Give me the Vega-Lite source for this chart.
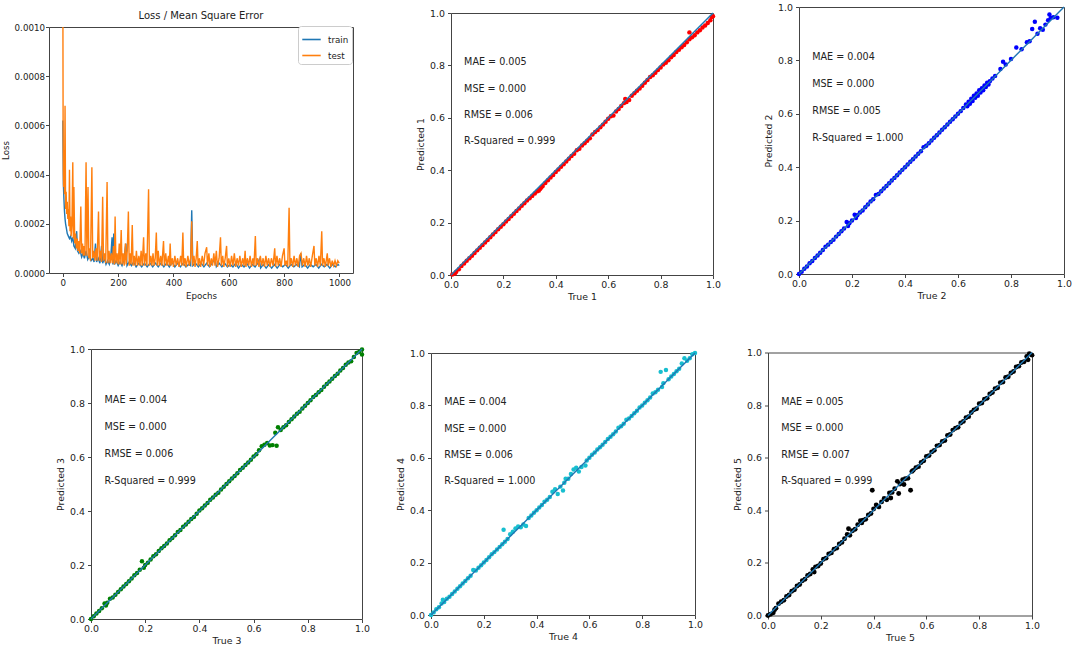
{
  "$schema": "https://vega.github.io/schema/vega-lite/v6.json",
  "padding": {"left": 0, "top": 1, "right": 0, "bottom": 0},
  "background": "white",
  "columns": 1,
  "align": "none",
  "spacing": 41,
  "datasets": {
    "train": [
      {"epoch":0,"loss":0.00062},{"epoch":2,"loss":0.00036},{"epoch":4,"loss":0.0003},{"epoch":6,"loss":0.00025},{"epoch":8,"loss":0.00022},{"epoch":10,"loss":0.0002},{"epoch":13,"loss":0.00018},{"epoch":16,"loss":0.00016},{"epoch":20,"loss":0.00015},{"epoch":24,"loss":0.00014},{"epoch":28,"loss":0.00015},{"epoch":32,"loss":0.00013},{"epoch":36,"loss":0.000145},{"epoch":40,"loss":0.00011},{"epoch":45,"loss":0.0001},{"epoch":50,"loss":0.00017},{"epoch":53,"loss":0.00009},{"epoch":58,"loss":0.00008},{"epoch":63,"loss":0.00009},{"epoch":68,"loss":0.000065},{"epoch":73,"loss":0.00008},{"epoch":78,"loss":0.00006},{"epoch":84,"loss":0.00009},{"epoch":90,"loss":0.000055},{"epoch":96,"loss":0.00007},{"epoch":102,"loss":0.00005},{"epoch":108,"loss":0.00006},{"epoch":113,"loss":0.000045},{"epoch":118,"loss":0.00012},{"epoch":122,"loss":0.000045},{"epoch":128,"loss":0.00006},{"epoch":134,"loss":0.00004},{"epoch":140,"loss":0.00011},{"epoch":144,"loss":0.00004},{"epoch":150,"loss":0.00006},{"epoch":156,"loss":0.000035},{"epoch":162,"loss":0.00005},{"epoch":168,"loss":0.000035},{"epoch":173,"loss":0.00006},{"epoch":178,"loss":0.000145},{"epoch":181,"loss":0.000035},{"epoch":184,"loss":0.00016},{"epoch":187,"loss":0.000035},{"epoch":193,"loss":0.00005},{"epoch":200,"loss":0.00003},{"epoch":207,"loss":0.000045},{"epoch":214,"loss":0.00003},{"epoch":220,"loss":0.00005},{"epoch":228,"loss":0.00012},{"epoch":232,"loss":0.00003},{"epoch":240,"loss":0.000045},{"epoch":248,"loss":0.00003},{"epoch":256,"loss":0.000045},{"epoch":265,"loss":0.000025},{"epoch":275,"loss":0.00004},{"epoch":285,"loss":0.000025},{"epoch":295,"loss":0.00004},{"epoch":305,"loss":0.000025},{"epoch":315,"loss":0.00004},{"epoch":325,"loss":0.000025},{"epoch":335,"loss":0.00004},{"epoch":345,"loss":0.000025},{"epoch":355,"loss":0.00004},{"epoch":365,"loss":0.000025},{"epoch":375,"loss":0.00004},{"epoch":385,"loss":0.000025},{"epoch":395,"loss":0.000045},{"epoch":405,"loss":0.000025},{"epoch":415,"loss":0.00004},{"epoch":425,"loss":0.000025},{"epoch":435,"loss":0.00004},{"epoch":445,"loss":0.000025},{"epoch":455,"loss":0.000035},{"epoch":462,"loss":0.00003},{"epoch":466,"loss":0.000255},{"epoch":470,"loss":0.00003},{"epoch":480,"loss":0.00004},{"epoch":490,"loss":0.000025},{"epoch":500,"loss":0.00004},{"epoch":510,"loss":0.000025},{"epoch":520,"loss":0.00004},{"epoch":530,"loss":0.000025},{"epoch":540,"loss":0.00004},{"epoch":550,"loss":0.00006},{"epoch":555,"loss":0.000025},{"epoch":565,"loss":0.00004},{"epoch":575,"loss":0.000025},{"epoch":585,"loss":0.00004},{"epoch":595,"loss":0.000025},{"epoch":605,"loss":0.000035},{"epoch":615,"loss":0.000025},{"epoch":625,"loss":0.00004},{"epoch":635,"loss":0.00002},{"epoch":645,"loss":0.000035},{"epoch":655,"loss":0.000025},{"epoch":665,"loss":0.00004},{"epoch":675,"loss":0.00002},{"epoch":685,"loss":0.000035},{"epoch":695,"loss":0.000025},{"epoch":705,"loss":0.00004},{"epoch":710,"loss":0.000055},{"epoch":715,"loss":0.00002},{"epoch":725,"loss":0.000035},{"epoch":735,"loss":0.00002},{"epoch":745,"loss":0.000035},{"epoch":755,"loss":0.00002},{"epoch":765,"loss":0.000035},{"epoch":775,"loss":0.00002},{"epoch":785,"loss":0.000035},{"epoch":795,"loss":0.000025},{"epoch":805,"loss":0.000035},{"epoch":815,"loss":0.00002},{"epoch":825,"loss":0.000035},{"epoch":835,"loss":0.000025},{"epoch":845,"loss":0.000035},{"epoch":855,"loss":0.000025},{"epoch":860,"loss":0.00008},{"epoch":865,"loss":0.000025},{"epoch":875,"loss":0.000035},{"epoch":885,"loss":0.00002},{"epoch":895,"loss":0.000035},{"epoch":905,"loss":0.000025},{"epoch":915,"loss":0.000035},{"epoch":925,"loss":0.00002},{"epoch":935,"loss":0.000035},{"epoch":945,"loss":0.000025},{"epoch":955,"loss":0.000035},{"epoch":965,"loss":0.00002},{"epoch":975,"loss":0.000035},{"epoch":985,"loss":0.000025},{"epoch":995,"loss":0.000035},{"epoch":999,"loss":0.00003}
    ],
    "test": [
      {"epoch":0,"loss":0.0012},{"epoch":1,"loss":0.00062},{"epoch":2,"loss":0.0004},{"epoch":3,"loss":0.00035},{"epoch":5,"loss":0.0005},{"epoch":6,"loss":0.00032},{"epoch":8,"loss":0.00068},{"epoch":10,"loss":0.00026},{"epoch":12,"loss":0.00033},{"epoch":14,"loss":0.00024},{"epoch":16,"loss":0.00029},{"epoch":18,"loss":0.00022},{"epoch":20,"loss":0.00026},{"epoch":22,"loss":0.00019},{"epoch":24,"loss":0.00042},{"epoch":26,"loss":0.00017},{"epoch":28,"loss":0.00023},{"epoch":30,"loss":0.00015},{"epoch":33,"loss":0.0002},{"epoch":36,"loss":0.00045},{"epoch":38,"loss":0.00014},{"epoch":40,"loss":0.00035},{"epoch":43,"loss":0.00012},{"epoch":46,"loss":0.00016},{"epoch":49,"loss":0.0001},{"epoch":52,"loss":0.00014},{"epoch":55,"loss":0.00009},{"epoch":58,"loss":0.00013},{"epoch":61,"loss":0.00008},{"epoch":65,"loss":0.00027},{"epoch":68,"loss":0.00008},{"epoch":71,"loss":0.00012},{"epoch":74,"loss":0.00007},{"epoch":77,"loss":0.00011},{"epoch":80,"loss":0.00007},{"epoch":84,"loss":0.00045},{"epoch":87,"loss":0.00007},{"epoch":91,"loss":0.00035},{"epoch":94,"loss":0.00006},{"epoch":97,"loss":0.0001},{"epoch":100,"loss":0.00005},{"epoch":105,"loss":0.00043},{"epoch":108,"loss":0.00006},{"epoch":112,"loss":0.00009},{"epoch":116,"loss":0.00005},{"epoch":120,"loss":0.0001},{"epoch":124,"loss":0.00005},{"epoch":129,"loss":0.00025},{"epoch":132,"loss":0.00005},{"epoch":136,"loss":0.00009},{"epoch":140,"loss":0.000045},{"epoch":144,"loss":0.00031},{"epoch":147,"loss":0.00005},{"epoch":151,"loss":0.00008},{"epoch":155,"loss":0.00004},{"epoch":160,"loss":0.00037},{"epoch":163,"loss":0.00004},{"epoch":167,"loss":0.00009},{"epoch":171,"loss":0.00004},{"epoch":175,"loss":0.00008},{"epoch":179,"loss":0.00004},{"epoch":183,"loss":0.00011},{"epoch":186,"loss":0.000035},{"epoch":189,"loss":0.00023},{"epoch":192,"loss":0.00004},{"epoch":196,"loss":0.00008},{"epoch":200,"loss":0.000035},{"epoch":204,"loss":0.00012},{"epoch":207,"loss":0.000035},{"epoch":211,"loss":0.000175},{"epoch":214,"loss":0.000035},{"epoch":218,"loss":0.00008},{"epoch":222,"loss":0.00003},{"epoch":226,"loss":0.00012},{"epoch":229,"loss":0.000035},{"epoch":233,"loss":0.00009},{"epoch":237,"loss":0.00025},{"epoch":240,"loss":0.00003},{"epoch":244,"loss":0.00008},{"epoch":247,"loss":0.000035},{"epoch":251,"loss":0.000195},{"epoch":254,"loss":0.00003},{"epoch":258,"loss":0.00007},{"epoch":262,"loss":0.00003},{"epoch":266,"loss":0.00009},{"epoch":270,"loss":0.00003},{"epoch":275,"loss":0.00007},{"epoch":279,"loss":0.00003},{"epoch":283,"loss":0.00009},{"epoch":287,"loss":0.00003},{"epoch":292,"loss":0.000145},{"epoch":295,"loss":0.00003},{"epoch":300,"loss":0.00008},{"epoch":304,"loss":0.00003},{"epoch":310,"loss":0.00034},{"epoch":313,"loss":0.00003},{"epoch":318,"loss":0.00007},{"epoch":322,"loss":0.00003},{"epoch":326,"loss":0.00008},{"epoch":330,"loss":0.00003},{"epoch":334,"loss":0.00006},{"epoch":338,"loss":0.000165},{"epoch":341,"loss":0.00003},{"epoch":345,"loss":0.00009},{"epoch":349,"loss":0.00003},{"epoch":354,"loss":0.00007},{"epoch":358,"loss":0.00003},{"epoch":364,"loss":0.00013},{"epoch":367,"loss":0.00003},{"epoch":372,"loss":0.00008},{"epoch":376,"loss":0.00003},{"epoch":382,"loss":0.00007},{"epoch":385,"loss":0.00003},{"epoch":388,"loss":0.00012},{"epoch":391,"loss":0.00003},{"epoch":396,"loss":0.00006},{"epoch":400,"loss":0.000025},{"epoch":405,"loss":0.00007},{"epoch":410,"loss":0.00003},{"epoch":415,"loss":0.00006},{"epoch":420,"loss":0.000025},{"epoch":426,"loss":0.00007},{"epoch":430,"loss":0.00003},{"epoch":434,"loss":0.000165},{"epoch":437,"loss":0.00003},{"epoch":442,"loss":0.00006},{"epoch":446,"loss":0.000025},{"epoch":452,"loss":0.00007},{"epoch":457,"loss":0.00003},{"epoch":462,"loss":0.00006},{"epoch":466,"loss":0.00021},{"epoch":469,"loss":0.00003},{"epoch":474,"loss":0.00007},{"epoch":478,"loss":0.000025},{"epoch":482,"loss":0.00006},{"epoch":486,"loss":0.00013},{"epoch":489,"loss":0.00003},{"epoch":494,"loss":0.00006},{"epoch":498,"loss":0.000025},{"epoch":504,"loss":0.00007},{"epoch":509,"loss":0.00003},{"epoch":514,"loss":0.00008},{"epoch":520,"loss":0.000105},{"epoch":523,"loss":0.00003},{"epoch":528,"loss":0.00008},{"epoch":532,"loss":0.000025},{"epoch":537,"loss":0.00006},{"epoch":541,"loss":0.00003},{"epoch":546,"loss":0.00008},{"epoch":550,"loss":0.00003},{"epoch":555,"loss":0.00009},{"epoch":559,"loss":0.000025},{"epoch":565,"loss":0.00006},{"epoch":570,"loss":0.000145},{"epoch":573,"loss":0.00003},{"epoch":578,"loss":0.00007},{"epoch":582,"loss":0.000025},{"epoch":587,"loss":0.00006},{"epoch":592,"loss":0.00011},{"epoch":595,"loss":0.000025},{"epoch":600,"loss":0.00006},{"epoch":605,"loss":0.000025},{"epoch":610,"loss":0.00007},{"epoch":615,"loss":0.00003},{"epoch":620,"loss":0.00008},{"epoch":625,"loss":0.000025},{"epoch":630,"loss":0.00006},{"epoch":635,"loss":0.00003},{"epoch":640,"loss":0.00007},{"epoch":645,"loss":0.000025},{"epoch":650,"loss":0.00006},{"epoch":655,"loss":0.00003},{"epoch":659,"loss":0.00009},{"epoch":662,"loss":0.000025},{"epoch":667,"loss":0.00006},{"epoch":672,"loss":0.00003},{"epoch":677,"loss":0.00007},{"epoch":682,"loss":0.000025},{"epoch":687,"loss":0.00006},{"epoch":691,"loss":0.00003},{"epoch":696,"loss":0.00015},{"epoch":699,"loss":0.00003},{"epoch":704,"loss":0.00006},{"epoch":709,"loss":0.000025},{"epoch":714,"loss":0.00007},{"epoch":719,"loss":0.00003},{"epoch":724,"loss":0.00006},{"epoch":729,"loss":0.000025},{"epoch":734,"loss":0.00007},{"epoch":739,"loss":0.00003},{"epoch":744,"loss":0.00006},{"epoch":749,"loss":0.000025},{"epoch":754,"loss":0.00006},{"epoch":760,"loss":0.00003},{"epoch":766,"loss":0.0001},{"epoch":769,"loss":0.000025},{"epoch":774,"loss":0.00007},{"epoch":779,"loss":0.00003},{"epoch":784,"loss":0.00006},{"epoch":789,"loss":0.000025},{"epoch":794,"loss":0.00007},{"epoch":800,"loss":0.0001},{"epoch":803,"loss":0.00003},{"epoch":808,"loss":0.00005},{"epoch":813,"loss":0.000025},{"epoch":818,"loss":0.000265},{"epoch":821,"loss":0.00003},{"epoch":826,"loss":0.00006},{"epoch":831,"loss":0.000025},{"epoch":836,"loss":0.00007},{"epoch":841,"loss":0.00003},{"epoch":846,"loss":0.00006},{"epoch":851,"loss":0.000025},{"epoch":856,"loss":0.00007},{"epoch":861,"loss":0.00008},{"epoch":866,"loss":0.00003},{"epoch":871,"loss":0.00006},{"epoch":876,"loss":0.000025},{"epoch":881,"loss":0.00007},{"epoch":886,"loss":0.00003},{"epoch":891,"loss":0.00006},{"epoch":896,"loss":0.000025},{"epoch":902,"loss":0.00007},{"epoch":908,"loss":0.00011},{"epoch":911,"loss":0.00003},{"epoch":916,"loss":0.00006},{"epoch":921,"loss":0.000025},{"epoch":926,"loss":0.00007},{"epoch":931,"loss":0.00003},{"epoch":936,"loss":0.00017},{"epoch":939,"loss":0.00003},{"epoch":944,"loss":0.00006},{"epoch":949,"loss":0.000025},{"epoch":956,"loss":0.00008},{"epoch":959,"loss":0.00003},{"epoch":964,"loss":0.00006},{"epoch":969,"loss":0.000025},{"epoch":974,"loss":0.00005},{"epoch":979,"loss":0.00003},{"epoch":984,"loss":0.00005},{"epoch":989,"loss":0.00003},{"epoch":994,"loss":0.00005},{"epoch":999,"loss":0.00004}
    ],
    "diag": [{"t":0,"p":0},{"t":1,"p":1}],
    "s1": [
      {"t":0.005,"p":0.002},{"t":0.015,"p":0.006},{"t":0.02,"p":0.012},{"t":0.03,"p":0.022},{"t":0.04,"p":0.034},{"t":0.05,"p":0.044},{"t":0.06,"p":0.054},{"t":0.07,"p":0.064},{"t":0.08,"p":0.073},{"t":0.09,"p":0.084},{"t":0.1,"p":0.094},{"t":0.11,"p":0.104},{"t":0.12,"p":0.114},{"t":0.13,"p":0.124},{"t":0.14,"p":0.134},{"t":0.15,"p":0.144},{"t":0.16,"p":0.155},{"t":0.17,"p":0.164},{"t":0.18,"p":0.175},{"t":0.19,"p":0.184},{"t":0.2,"p":0.194},{"t":0.21,"p":0.204},{"t":0.22,"p":0.214},{"t":0.23,"p":0.224},{"t":0.24,"p":0.234},{"t":0.25,"p":0.244},{"t":0.26,"p":0.254},{"t":0.27,"p":0.264},{"t":0.28,"p":0.274},{"t":0.29,"p":0.284},{"t":0.3,"p":0.293},{"t":0.31,"p":0.302},{"t":0.32,"p":0.311},{"t":0.33,"p":0.32},{"t":0.335,"p":0.322},{"t":0.34,"p":0.328},{"t":0.345,"p":0.334},{"t":0.35,"p":0.34},{"t":0.36,"p":0.351},{"t":0.37,"p":0.362},{"t":0.38,"p":0.372},{"t":0.39,"p":0.382},{"t":0.4,"p":0.393},{"t":0.41,"p":0.403},{"t":0.42,"p":0.413},{"t":0.43,"p":0.423},{"t":0.44,"p":0.433},{"t":0.45,"p":0.444},{"t":0.46,"p":0.454},{"t":0.47,"p":0.463},{"t":0.48,"p":0.476},{"t":0.49,"p":0.482},{"t":0.5,"p":0.494},{"t":0.51,"p":0.503},{"t":0.52,"p":0.512},{"t":0.53,"p":0.522},{"t":0.54,"p":0.536},{"t":0.55,"p":0.546},{"t":0.56,"p":0.553},{"t":0.57,"p":0.564},{"t":0.58,"p":0.574},{"t":0.59,"p":0.585},{"t":0.6,"p":0.596},{"t":0.61,"p":0.606},{"t":0.62,"p":0.609},{"t":0.63,"p":0.624},{"t":0.64,"p":0.634},{"t":0.65,"p":0.645},{"t":0.66,"p":0.656},{"t":0.665,"p":0.672},{"t":0.67,"p":0.66},{"t":0.68,"p":0.668},{"t":0.69,"p":0.684},{"t":0.7,"p":0.694},{"t":0.71,"p":0.703},{"t":0.72,"p":0.712},{"t":0.73,"p":0.722},{"t":0.74,"p":0.734},{"t":0.75,"p":0.744},{"t":0.76,"p":0.756},{"t":0.77,"p":0.762},{"t":0.78,"p":0.772},{"t":0.79,"p":0.782},{"t":0.8,"p":0.792},{"t":0.81,"p":0.803},{"t":0.82,"p":0.81},{"t":0.83,"p":0.82},{"t":0.84,"p":0.831},{"t":0.85,"p":0.84},{"t":0.86,"p":0.851},{"t":0.87,"p":0.86},{"t":0.88,"p":0.869},{"t":0.89,"p":0.878},{"t":0.9,"p":0.888},{"t":0.91,"p":0.926},{"t":0.91,"p":0.9},{"t":0.92,"p":0.907},{"t":0.93,"p":0.915},{"t":0.94,"p":0.926},{"t":0.95,"p":0.934},{"t":0.96,"p":0.945},{"t":0.97,"p":0.952},{"t":0.98,"p":0.962},{"t":0.99,"p":0.972},{"t":0.995,"p":0.985},{"t":1.0,"p":0.988}
    ],
    "s2": [
      {"t":0.0,"p":0.0},{"t":0.01,"p":0.008},{"t":0.02,"p":0.02},{"t":0.03,"p":0.028},{"t":0.04,"p":0.04},{"t":0.05,"p":0.049},{"t":0.06,"p":0.06},{"t":0.07,"p":0.069},{"t":0.08,"p":0.08},{"t":0.09,"p":0.09},{"t":0.1,"p":0.102},{"t":0.11,"p":0.11},{"t":0.12,"p":0.12},{"t":0.13,"p":0.128},{"t":0.14,"p":0.14},{"t":0.15,"p":0.15},{"t":0.16,"p":0.16},{"t":0.17,"p":0.17},{"t":0.18,"p":0.195},{"t":0.185,"p":0.18},{"t":0.19,"p":0.19},{"t":0.2,"p":0.2},{"t":0.21,"p":0.222},{"t":0.215,"p":0.21},{"t":0.22,"p":0.22},{"t":0.23,"p":0.23},{"t":0.24,"p":0.238},{"t":0.25,"p":0.25},{"t":0.26,"p":0.26},{"t":0.27,"p":0.272},{"t":0.28,"p":0.28},{"t":0.29,"p":0.296},{"t":0.3,"p":0.3},{"t":0.31,"p":0.31},{"t":0.32,"p":0.32},{"t":0.33,"p":0.33},{"t":0.34,"p":0.34},{"t":0.35,"p":0.35},{"t":0.36,"p":0.36},{"t":0.37,"p":0.37},{"t":0.38,"p":0.38},{"t":0.39,"p":0.39},{"t":0.4,"p":0.4},{"t":0.41,"p":0.41},{"t":0.42,"p":0.42},{"t":0.43,"p":0.43},{"t":0.44,"p":0.44},{"t":0.45,"p":0.45},{"t":0.46,"p":0.46},{"t":0.47,"p":0.475},{"t":0.48,"p":0.48},{"t":0.49,"p":0.49},{"t":0.5,"p":0.5},{"t":0.51,"p":0.51},{"t":0.52,"p":0.52},{"t":0.53,"p":0.53},{"t":0.54,"p":0.54},{"t":0.55,"p":0.55},{"t":0.56,"p":0.56},{"t":0.57,"p":0.57},{"t":0.58,"p":0.58},{"t":0.59,"p":0.59},{"t":0.6,"p":0.6},{"t":0.61,"p":0.61},{"t":0.62,"p":0.622},{"t":0.63,"p":0.635},{"t":0.635,"p":0.628},{"t":0.64,"p":0.645},{"t":0.645,"p":0.638},{"t":0.65,"p":0.656},{"t":0.655,"p":0.648},{"t":0.66,"p":0.668},{"t":0.665,"p":0.66},{"t":0.67,"p":0.676},{"t":0.675,"p":0.668},{"t":0.68,"p":0.688},{"t":0.685,"p":0.68},{"t":0.69,"p":0.696},{"t":0.695,"p":0.688},{"t":0.7,"p":0.706},{"t":0.705,"p":0.7},{"t":0.71,"p":0.716},{"t":0.715,"p":0.71},{"t":0.72,"p":0.722},{"t":0.73,"p":0.732},{"t":0.74,"p":0.742},{"t":0.76,"p":0.768},{"t":0.77,"p":0.795},{"t":0.78,"p":0.785},{"t":0.8,"p":0.805},{"t":0.82,"p":0.848},{"t":0.84,"p":0.842},{"t":0.86,"p":0.868},{"t":0.87,"p":0.872},{"t":0.88,"p":0.918},{"t":0.89,"p":0.945},{"t":0.9,"p":0.9},{"t":0.91,"p":0.92},{"t":0.92,"p":0.915},{"t":0.93,"p":0.934},{"t":0.94,"p":0.95},{"t":0.945,"p":0.972},{"t":0.95,"p":0.96},{"t":0.96,"p":0.962},{"t":0.975,"p":0.96}
    ],
    "s3": [
      {"t":0.0,"p":0.0},{"t":0.01,"p":0.01},{"t":0.02,"p":0.02},{"t":0.03,"p":0.03},{"t":0.04,"p":0.04},{"t":0.05,"p":0.057},{"t":0.055,"p":0.05},{"t":0.06,"p":0.06},{"t":0.07,"p":0.075},{"t":0.08,"p":0.08},{"t":0.09,"p":0.09},{"t":0.1,"p":0.1},{"t":0.11,"p":0.11},{"t":0.12,"p":0.12},{"t":0.13,"p":0.13},{"t":0.14,"p":0.14},{"t":0.15,"p":0.15},{"t":0.16,"p":0.162},{"t":0.17,"p":0.17},{"t":0.18,"p":0.182},{"t":0.188,"p":0.214},{"t":0.195,"p":0.19},{"t":0.2,"p":0.2},{"t":0.21,"p":0.208},{"t":0.22,"p":0.22},{"t":0.23,"p":0.232},{"t":0.24,"p":0.24},{"t":0.25,"p":0.252},{"t":0.26,"p":0.262},{"t":0.27,"p":0.27},{"t":0.28,"p":0.28},{"t":0.29,"p":0.292},{"t":0.3,"p":0.3},{"t":0.31,"p":0.31},{"t":0.32,"p":0.322},{"t":0.33,"p":0.33},{"t":0.34,"p":0.342},{"t":0.35,"p":0.35},{"t":0.36,"p":0.36},{"t":0.37,"p":0.37},{"t":0.38,"p":0.378},{"t":0.39,"p":0.39},{"t":0.4,"p":0.402},{"t":0.41,"p":0.41},{"t":0.42,"p":0.42},{"t":0.43,"p":0.43},{"t":0.44,"p":0.442},{"t":0.45,"p":0.45},{"t":0.46,"p":0.46},{"t":0.47,"p":0.468},{"t":0.48,"p":0.48},{"t":0.49,"p":0.49},{"t":0.5,"p":0.5},{"t":0.51,"p":0.51},{"t":0.52,"p":0.52},{"t":0.53,"p":0.53},{"t":0.54,"p":0.54},{"t":0.55,"p":0.552},{"t":0.56,"p":0.56},{"t":0.57,"p":0.57},{"t":0.58,"p":0.58},{"t":0.59,"p":0.59},{"t":0.6,"p":0.602},{"t":0.61,"p":0.61},{"t":0.62,"p":0.625},{"t":0.63,"p":0.64},{"t":0.64,"p":0.645},{"t":0.65,"p":0.652},{"t":0.66,"p":0.643},{"t":0.67,"p":0.644},{"t":0.68,"p":0.69},{"t":0.685,"p":0.642},{"t":0.69,"p":0.71},{"t":0.7,"p":0.7},{"t":0.71,"p":0.71},{"t":0.72,"p":0.718},{"t":0.73,"p":0.73},{"t":0.74,"p":0.74},{"t":0.75,"p":0.75},{"t":0.76,"p":0.76},{"t":0.77,"p":0.768},{"t":0.78,"p":0.78},{"t":0.79,"p":0.79},{"t":0.8,"p":0.8},{"t":0.81,"p":0.81},{"t":0.82,"p":0.822},{"t":0.83,"p":0.83},{"t":0.84,"p":0.84},{"t":0.85,"p":0.848},{"t":0.86,"p":0.86},{"t":0.87,"p":0.87},{"t":0.88,"p":0.88},{"t":0.89,"p":0.89},{"t":0.9,"p":0.9},{"t":0.91,"p":0.908},{"t":0.92,"p":0.92},{"t":0.93,"p":0.93},{"t":0.94,"p":0.942},{"t":0.95,"p":0.95},{"t":0.96,"p":0.955},{"t":0.97,"p":0.97},{"t":0.98,"p":0.985},{"t":0.99,"p":0.99},{"t":1.0,"p":0.98},{"t":1.0,"p":0.998}
    ],
    "s4": [
      {"t":0.0,"p":0.0},{"t":0.01,"p":0.01},{"t":0.02,"p":0.022},{"t":0.03,"p":0.03},{"t":0.04,"p":0.044},{"t":0.045,"p":0.058},{"t":0.05,"p":0.05},{"t":0.06,"p":0.062},{"t":0.07,"p":0.07},{"t":0.08,"p":0.08},{"t":0.09,"p":0.09},{"t":0.1,"p":0.1},{"t":0.11,"p":0.11},{"t":0.12,"p":0.12},{"t":0.13,"p":0.13},{"t":0.14,"p":0.14},{"t":0.15,"p":0.15},{"t":0.16,"p":0.172},{"t":0.17,"p":0.17},{"t":0.18,"p":0.18},{"t":0.19,"p":0.19},{"t":0.2,"p":0.2},{"t":0.21,"p":0.21},{"t":0.22,"p":0.22},{"t":0.23,"p":0.232},{"t":0.24,"p":0.24},{"t":0.25,"p":0.25},{"t":0.26,"p":0.26},{"t":0.27,"p":0.27},{"t":0.275,"p":0.325},{"t":0.28,"p":0.28},{"t":0.29,"p":0.29},{"t":0.3,"p":0.308},{"t":0.31,"p":0.318},{"t":0.32,"p":0.33},{"t":0.33,"p":0.338},{"t":0.34,"p":0.335},{"t":0.35,"p":0.345},{"t":0.36,"p":0.34},{"t":0.37,"p":0.37},{"t":0.38,"p":0.38},{"t":0.39,"p":0.39},{"t":0.4,"p":0.4},{"t":0.41,"p":0.41},{"t":0.42,"p":0.42},{"t":0.43,"p":0.432},{"t":0.44,"p":0.44},{"t":0.45,"p":0.45},{"t":0.46,"p":0.47},{"t":0.47,"p":0.48},{"t":0.48,"p":0.462},{"t":0.49,"p":0.49},{"t":0.5,"p":0.475},{"t":0.505,"p":0.505},{"t":0.51,"p":0.52},{"t":0.52,"p":0.52},{"t":0.53,"p":0.538},{"t":0.54,"p":0.555},{"t":0.55,"p":0.562},{"t":0.56,"p":0.548},{"t":0.57,"p":0.565},{"t":0.585,"p":0.571},{"t":0.59,"p":0.59},{"t":0.6,"p":0.6},{"t":0.61,"p":0.612},{"t":0.62,"p":0.62},{"t":0.63,"p":0.632},{"t":0.64,"p":0.64},{"t":0.65,"p":0.65},{"t":0.66,"p":0.66},{"t":0.67,"p":0.672},{"t":0.68,"p":0.68},{"t":0.69,"p":0.69},{"t":0.7,"p":0.7},{"t":0.71,"p":0.715},{"t":0.72,"p":0.72},{"t":0.73,"p":0.73},{"t":0.74,"p":0.745},{"t":0.75,"p":0.75},{"t":0.76,"p":0.76},{"t":0.77,"p":0.77},{"t":0.78,"p":0.78},{"t":0.79,"p":0.792},{"t":0.8,"p":0.8},{"t":0.81,"p":0.81},{"t":0.82,"p":0.82},{"t":0.83,"p":0.83},{"t":0.84,"p":0.845},{"t":0.85,"p":0.85},{"t":0.86,"p":0.86},{"t":0.87,"p":0.928},{"t":0.875,"p":0.87},{"t":0.88,"p":0.885},{"t":0.89,"p":0.935},{"t":0.9,"p":0.9},{"t":0.91,"p":0.91},{"t":0.92,"p":0.92},{"t":0.93,"p":0.93},{"t":0.94,"p":0.94},{"t":0.95,"p":0.96},{"t":0.96,"p":0.98},{"t":0.97,"p":0.97},{"t":0.98,"p":0.98},{"t":0.99,"p":0.995},{"t":1.0,"p":1.0}
    ],
    "s5": [
      {"t":0.0,"p":0.0},{"t":0.01,"p":0.005},{"t":0.02,"p":0.01},{"t":0.025,"p":0.022},{"t":0.03,"p":0.028},{"t":0.04,"p":0.045},{"t":0.05,"p":0.052},{"t":0.06,"p":0.058},{"t":0.07,"p":0.072},{"t":0.08,"p":0.078},{"t":0.09,"p":0.092},{"t":0.1,"p":0.098},{"t":0.11,"p":0.112},{"t":0.12,"p":0.118},{"t":0.13,"p":0.132},{"t":0.14,"p":0.138},{"t":0.15,"p":0.152},{"t":0.16,"p":0.158},{"t":0.17,"p":0.175},{"t":0.175,"p":0.165},{"t":0.18,"p":0.185},{"t":0.19,"p":0.188},{"t":0.2,"p":0.198},{"t":0.21,"p":0.214},{"t":0.22,"p":0.218},{"t":0.23,"p":0.234},{"t":0.24,"p":0.238},{"t":0.25,"p":0.252},{"t":0.26,"p":0.256},{"t":0.27,"p":0.272},{"t":0.28,"p":0.278},{"t":0.29,"p":0.292},{"t":0.3,"p":0.308},{"t":0.305,"p":0.33},{"t":0.31,"p":0.305},{"t":0.32,"p":0.322},{"t":0.33,"p":0.328},{"t":0.34,"p":0.345},{"t":0.35,"p":0.36},{"t":0.355,"p":0.352},{"t":0.36,"p":0.362},{"t":0.37,"p":0.366},{"t":0.38,"p":0.382},{"t":0.39,"p":0.388},{"t":0.395,"p":0.476},{"t":0.4,"p":0.405},{"t":0.41,"p":0.42},{"t":0.42,"p":0.413},{"t":0.43,"p":0.432},{"t":0.44,"p":0.445},{"t":0.45,"p":0.44},{"t":0.46,"p":0.466},{"t":0.465,"p":0.447},{"t":0.47,"p":0.468},{"t":0.48,"p":0.482},{"t":0.49,"p":0.51},{"t":0.495,"p":0.464},{"t":0.5,"p":0.5},{"t":0.51,"p":0.516},{"t":0.515,"p":0.498},{"t":0.52,"p":0.52},{"t":0.53,"p":0.522},{"t":0.54,"p":0.476},{"t":0.545,"p":0.548},{"t":0.55,"p":0.552},{"t":0.56,"p":0.562},{"t":0.57,"p":0.566},{"t":0.58,"p":0.582},{"t":0.59,"p":0.588},{"t":0.6,"p":0.605},{"t":0.61,"p":0.608},{"t":0.62,"p":0.622},{"t":0.63,"p":0.628},{"t":0.64,"p":0.645},{"t":0.65,"p":0.648},{"t":0.66,"p":0.662},{"t":0.67,"p":0.665},{"t":0.68,"p":0.685},{"t":0.69,"p":0.688},{"t":0.7,"p":0.705},{"t":0.71,"p":0.712},{"t":0.72,"p":0.716},{"t":0.73,"p":0.732},{"t":0.74,"p":0.738},{"t":0.75,"p":0.752},{"t":0.76,"p":0.756},{"t":0.77,"p":0.772},{"t":0.78,"p":0.782},{"t":0.79,"p":0.786},{"t":0.8,"p":0.805},{"t":0.81,"p":0.808},{"t":0.82,"p":0.822},{"t":0.83,"p":0.826},{"t":0.84,"p":0.842},{"t":0.85,"p":0.848},{"t":0.86,"p":0.862},{"t":0.87,"p":0.866},{"t":0.88,"p":0.885},{"t":0.89,"p":0.888},{"t":0.9,"p":0.905},{"t":0.91,"p":0.908},{"t":0.92,"p":0.922},{"t":0.93,"p":0.928},{"t":0.94,"p":0.945},{"t":0.95,"p":0.948},{"t":0.96,"p":0.962},{"t":0.97,"p":0.965},{"t":0.98,"p":0.985},{"t":0.985,"p":0.972},{"t":0.99,"p":0.995},{"t":1.0,"p":0.99}
    ],
    "a1": [{"t":0.05,"p":0.8,"label":"MAE = 0.005"},{"t":0.05,"p":0.7,"label":"MSE = 0.000"},{"t":0.05,"p":0.6,"label":"RMSE = 0.006"},{"t":0.05,"p":0.5,"label":"R-Squared = 0.999"}],
    "a2": [{"t":0.05,"p":0.8,"label":"MAE = 0.004"},{"t":0.05,"p":0.7,"label":"MSE = 0.000"},{"t":0.05,"p":0.6,"label":"RMSE = 0.005"},{"t":0.05,"p":0.5,"label":"R-Squared = 1.000"}],
    "a3": [{"t":0.05,"p":0.8,"label":"MAE = 0.004"},{"t":0.05,"p":0.7,"label":"MSE = 0.000"},{"t":0.05,"p":0.6,"label":"RMSE = 0.006"},{"t":0.05,"p":0.5,"label":"R-Squared = 0.999"}],
    "a4": [{"t":0.05,"p":0.8,"label":"MAE = 0.004"},{"t":0.05,"p":0.7,"label":"MSE = 0.000"},{"t":0.05,"p":0.6,"label":"RMSE = 0.006"},{"t":0.05,"p":0.5,"label":"R-Squared = 1.000"}],
    "a5": [{"t":0.05,"p":0.8,"label":"MAE = 0.005"},{"t":0.05,"p":0.7,"label":"MSE = 0.000"},{"t":0.05,"p":0.6,"label":"RMSE = 0.007"},{"t":0.05,"p":0.5,"label":"R-Squared = 0.999"}]
  },
  "concat": [
    {
      "spacing": 15,
      "hconcat": [
        {
          "bounds": "flush",
          "spacing": 0,
          "vconcat": [
            {"width": 10, "height": 20, "data": {"values": []}, "mark": "point", "view": {"stroke": null}},
            {
              "width": 304,
              "height": 246,
              "title": {"text": "Loss / Mean Square Error", "fontSize": 10, "offset": 2},
              "layer": [
                {
                  "data": {"name": "train"},
                  "mark": {"type": "line", "strokeWidth": 1.4, "clip": true},
                  "encoding": {
                    "x": {"field": "epoch", "type": "quantitative", "scale": {"domain": [-50, 1049], "nice": false, "zero": false},
                          "axis": {"title": "Epochs", "values": [0, 200, 400, 600, 800, 1000], "format": "d", "labelFontSize": 8.7, "titleFontSize": 8.7}},
                    "y": {"field": "loss", "type": "quantitative", "scale": {"domain": [0, 0.001], "nice": false},
                          "axis": {"title": "Loss", "values": [0, 0.0002, 0.0004, 0.0006, 0.0008, 0.001], "format": ".4f", "labelFontSize": 8.7, "titleFontSize": 8.7, "labelPadding": 1}},
                    "color": {"datum": "train", "type": "nominal",
                              "scale": {"domain": ["train", "test"], "range": ["#1f77b4", "#ff7f0e"]},
                              "legend": {"title": null, "orient": "none", "legendX": 249, "legendY": 19, "symbolType": "stroke", "symbolSize": 340, "symbolStrokeWidth": 1.6,
                                         "labelFontSize": 8.7, "labelColor": "#222", "labelOffset": 6, "strokeColor": "#ccc", "fillColor": "white", "cornerRadius": 3, "padding": 3, "rowPadding": -3}}
                  }
                },
                {
                  "data": {"name": "test"},
                  "mark": {"type": "line", "strokeWidth": 1.4, "clip": true},
                  "encoding": {
                    "x": {"field": "epoch", "type": "quantitative"},
                    "y": {"field": "loss", "type": "quantitative"},
                    "color": {"datum": "test", "type": "nominal"}
                  }
                }
              ]
            }
          ]
        },
        {
          "width": 31,
          "height": 10,
          "data": {"values": []},
          "mark": "point",
          "view": {"stroke": null}
        },
        {
          "bounds": "flush",
          "spacing": 0,
          "vconcat": [
            {"width": 10, "height": 6, "data": {"values": []}, "mark": "point", "view": {"stroke": null}},
            {
              "width": 262,
              "height": 262,
              "layer": [
                {"data": {"name": "s1"}, "mark": {"type": "circle", "size": 20, "color": "#ff0000", "opacity": 1},
                 "encoding": {
                   "x": {"field": "t", "type": "quantitative", "scale": {"domain": [0, 1], "nice": false}, "axis": {"title": "True 1", "values": [0, 0.2, 0.4, 0.6, 0.8, 1], "format": ".1f"}},
                   "y": {"field": "p", "type": "quantitative", "scale": {"domain": [0, 1], "nice": false}, "axis": {"title": "Predicted 1", "values": [0, 0.2, 0.4, 0.6, 0.8, 1], "format": ".1f"}}}},
                {"data": {"name": "diag"}, "mark": {"type": "line", "color": "#1f77b4", "strokeWidth": 1.4},
                 "encoding": {"x": {"field": "t", "type": "quantitative"}, "y": {"field": "p", "type": "quantitative"}}},
                {"data": {"name": "a1"}, "mark": {"type": "text", "align": "left", "baseline": "alphabetic", "fontSize": 9.6, "color": "#222"},
                 "encoding": {"x": {"field": "t", "type": "quantitative"}, "y": {"field": "p", "type": "quantitative"}, "text": {"field": "label"}}}
              ]
            }
          ]
        },
        {
          "width": 12,
          "height": 10,
          "data": {"values": []},
          "mark": "point",
          "view": {"stroke": null}
        },
        {
          "width": 265,
          "height": 267,
          "layer": [
            {"data": {"name": "s2"}, "mark": {"type": "circle", "size": 20, "color": "#0000ff", "opacity": 1},
             "encoding": {
               "x": {"field": "t", "type": "quantitative", "scale": {"domain": [0, 1], "nice": false}, "axis": {"title": "True 2", "values": [0, 0.2, 0.4, 0.6, 0.8, 1], "format": ".1f"}},
               "y": {"field": "p", "type": "quantitative", "scale": {"domain": [0, 1], "nice": false}, "axis": {"title": "Predicted 2", "values": [0, 0.2, 0.4, 0.6, 0.8, 1], "format": ".1f"}}}},
            {"data": {"name": "diag"}, "mark": {"type": "line", "color": "#1f77b4", "strokeWidth": 1.4},
             "encoding": {"x": {"field": "t", "type": "quantitative"}, "y": {"field": "p", "type": "quantitative"}}},
            {"data": {"name": "a2"}, "mark": {"type": "text", "align": "left", "baseline": "alphabetic", "fontSize": 9.6, "color": "#222"},
             "encoding": {"x": {"field": "t", "type": "quantitative"}, "y": {"field": "p", "type": "quantitative"}, "text": {"field": "label"}}}
          ]
        }
      ]
    },
    {
      "bounds": "flush",
      "center": true,
      "spacing": 21,
      "hconcat": [
        {
          "width": 21,
          "height": 10,
          "data": {"values": []},
          "mark": "point",
          "view": {"stroke": null}
        },
        {
          "width": 271,
          "height": 270,
          "layer": [
            {"data": {"name": "s3"}, "mark": {"type": "circle", "size": 20, "color": "#008000", "opacity": 1},
             "encoding": {
               "x": {"field": "t", "type": "quantitative", "scale": {"domain": [0, 1], "nice": false}, "axis": {"title": "True 3", "values": [0, 0.2, 0.4, 0.6, 0.8, 1], "format": ".1f"}},
               "y": {"field": "p", "type": "quantitative", "scale": {"domain": [0, 1], "nice": false}, "axis": {"title": "Predicted 3", "values": [0, 0.2, 0.4, 0.6, 0.8, 1], "format": ".1f"}}}},
            {"data": {"name": "diag"}, "mark": {"type": "line", "color": "#1f77b4", "strokeWidth": 1.4},
             "encoding": {"x": {"field": "t", "type": "quantitative"}, "y": {"field": "p", "type": "quantitative"}}},
            {"data": {"name": "a3"}, "mark": {"type": "text", "align": "left", "baseline": "alphabetic", "fontSize": 9.6, "color": "#222"},
             "encoding": {"x": {"field": "t", "type": "quantitative"}, "y": {"field": "p", "type": "quantitative"}, "text": {"field": "label"}}}
          ]
        },
        {
          "width": 27,
          "height": 10,
          "data": {"values": []},
          "mark": "point",
          "view": {"stroke": null}
        },
        {
          "width": 264,
          "height": 262,
          "layer": [
            {"data": {"name": "s4"}, "mark": {"type": "circle", "size": 20, "color": "#17becf", "opacity": 1},
             "encoding": {
               "x": {"field": "t", "type": "quantitative", "scale": {"domain": [0, 1], "nice": false}, "axis": {"title": "True 4", "values": [0, 0.2, 0.4, 0.6, 0.8, 1], "format": ".1f"}},
               "y": {"field": "p", "type": "quantitative", "scale": {"domain": [0, 1], "nice": false}, "axis": {"title": "Predicted 4", "values": [0, 0.2, 0.4, 0.6, 0.8, 1], "format": ".1f"}}}},
            {"data": {"name": "diag"}, "mark": {"type": "line", "color": "#1f77b4", "strokeWidth": 1.4},
             "encoding": {"x": {"field": "t", "type": "quantitative"}, "y": {"field": "p", "type": "quantitative"}}},
            {"data": {"name": "a4"}, "mark": {"type": "text", "align": "left", "baseline": "alphabetic", "fontSize": 9.6, "color": "#222"},
             "encoding": {"x": {"field": "t", "type": "quantitative"}, "y": {"field": "p", "type": "quantitative"}, "text": {"field": "label"}}}
          ]
        },
        {
          "width": 31,
          "height": 10,
          "data": {"values": []},
          "mark": "point",
          "view": {"stroke": null}
        },
        {
          "width": 264,
          "height": 263,
          "layer": [
            {"data": {"name": "s5"}, "mark": {"type": "circle", "size": 24, "color": "#000000", "opacity": 1},
             "encoding": {
               "x": {"field": "t", "type": "quantitative", "scale": {"domain": [0, 1], "nice": false}, "axis": {"title": "True 5", "values": [0, 0.2, 0.4, 0.6, 0.8, 1], "format": ".1f"}},
               "y": {"field": "p", "type": "quantitative", "scale": {"domain": [0, 1], "nice": false}, "axis": {"title": "Predicted 5", "values": [0, 0.2, 0.4, 0.6, 0.8, 1], "format": ".1f"}}}},
            {"data": {"name": "diag"}, "mark": {"type": "line", "color": "#1f77b4", "strokeWidth": 1.4},
             "encoding": {"x": {"field": "t", "type": "quantitative"}, "y": {"field": "p", "type": "quantitative"}}},
            {"data": {"name": "a5"}, "mark": {"type": "text", "align": "left", "baseline": "alphabetic", "fontSize": 9.6, "color": "#222"},
             "encoding": {"x": {"field": "t", "type": "quantitative"}, "y": {"field": "p", "type": "quantitative"}, "text": {"field": "label"}}}
          ]
        }
      ]
    }
  ],
  "config": {
    "font": "DejaVu Sans",
    "view": {"stroke": "#444", "strokeWidth": 1},
    "axis": {"domain": false, "grid": false, "ticks": true, "tickColor": "#444", "tickSize": 3.5,
             "labelColor": "#222", "labelFontSize": 9.4, "titleColor": "#222", "titleFontSize": 9.4, "titleFontWeight": "normal",
             "labelFlush": false, "labelOverlap": false},
    "axisX": {"labelPadding": 2, "titlePadding": 4},
    "axisY": {"labelPadding": 3, "titlePadding": 4},
    "title": {"fontSize": 10, "fontWeight": "normal", "color": "#222", "offset": 2}
  }
}
